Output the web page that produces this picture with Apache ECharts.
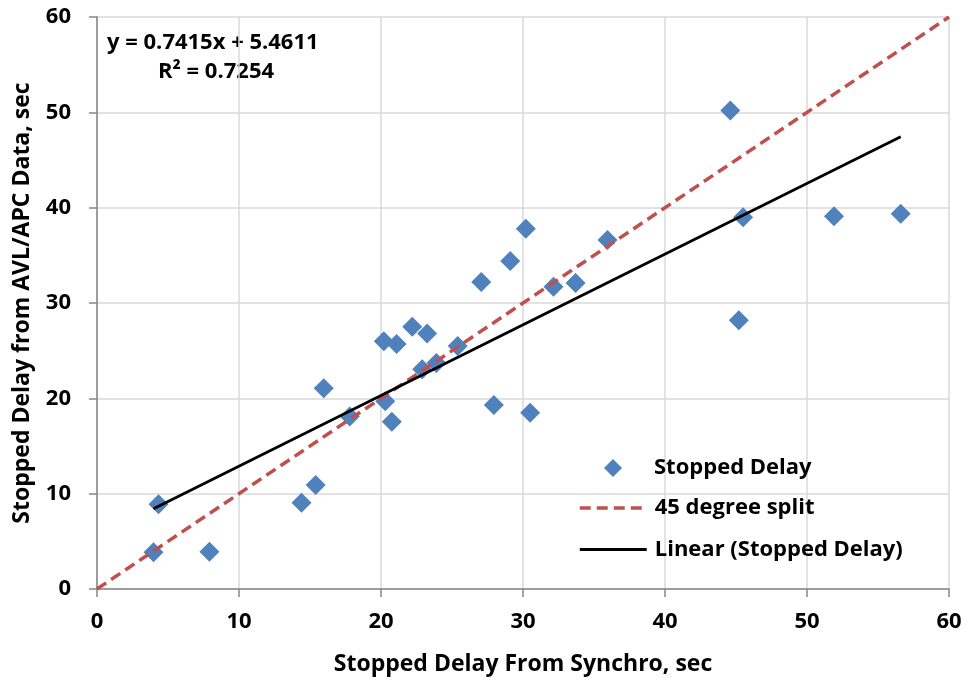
<!DOCTYPE html>
<html>
<head>
<meta charset="utf-8">
<script src="https://cdn.jsdelivr.net/npm/echarts@6/dist/echarts.min.js"></script>
<style>
  html, body { margin: 0; padding: 0; background: #fff; }
  #chart { width: 969px; height: 683px; }
</style>
</head>
<body>
<div id="chart"></div>
<script>
// values
var synchroX = [3.98, 4.33, 7.92, 14.4, 15.4, 15.97, 17.8, 20.3, 20.2, 20.76, 21.1, 22.2, 22.9, 23.25, 23.9,
  25.4, 27.06, 27.95, 29.1, 30.2, 30.5, 32.15, 33.7, 35.95, 44.6, 45.2, 45.5, 51.9, 56.6];
var avlY = [3.85, 8.9, 3.9, 9.06, 10.9, 21.06, 18.1, 19.7, 26.0, 17.55, 25.7, 27.5, 23.05, 26.8, 23.7,
  25.5, 32.2, 19.3, 34.4, 37.8, 18.5, 31.7, 32.1, 36.6, 50.2, 28.2, 39.0, 39.1, 39.35];
var splitLine45 = [[0, 0], [60, 60]];
var trendEnds = [[3.98, 8.41], [56.6, 47.43]];

var font = 'Open Sans';
var pts = synchroX.map(function (x, i) { return [x, avlY[i]]; });

var axisCommon = {
  type: 'value', min: 0, max: 60, interval: 10,
  nameLocation: 'middle',
  nameTextStyle: { fontFamily: font, fontWeight: 'bold', fontSize: 23, color: '#000' },
  axisLine: { show: true, lineStyle: { color: '#868686', width: 1.5 } },
  axisTick: { show: true, length: 8, lineStyle: { color: '#868686', width: 1.5 } },
  splitLine: { show: true, lineStyle: { color: '#d9d9d9', width: 1.5 } }
};
var labelStyle = { fontFamily: font, fontWeight: 'bold', fontSize: 22, color: '#000' };

var chart = echarts.init(document.getElementById('chart'));
chart.setOption({
  animation: false,
  backgroundColor: '#fff',
  textStyle: { fontFamily: font },
  grid: { left: 97, right: 20, top: 17, bottom: 94, containLabel: false },
  xAxis: Object.assign({}, axisCommon, {
    name: 'Stopped Delay From Synchro, sec', nameGap: 64,
    axisLabel: Object.assign({ margin: 22 }, labelStyle)
  }),
  yAxis: Object.assign({}, axisCommon, {
    name: 'Stopped Delay from AVL/APC Data, sec', nameGap: 63, nameRotate: 90,
    axisLabel: Object.assign({ margin: 26 }, labelStyle)
  }),
  legend: [
    {
      orient: 'vertical', left: 604, top: 457, padding: 0,
      itemWidth: 18, itemHeight: 18,
      textStyle: { fontFamily: font, fontWeight: 'bold', fontSize: 22, lineHeight: 22, color: '#000', padding: [0, 0, 0, 27] },
      data: ['Stopped Delay']
    },
    {
      orient: 'vertical', left: 578, top: 497, padding: 0,
      itemWidth: 67, itemHeight: 14, itemGap: 19.5,
      itemStyle: { opacity: 0 },
      textStyle: { fontFamily: font, fontWeight: 'bold', fontSize: 22, lineHeight: 22, color: '#000', padding: [0, 0, 0, 3] },
      data: [
        { name: '45 degree split', lineStyle: { width: 3.5, opacity: 1 } },
        { name: 'Linear (Stopped Delay)', lineStyle: { width: 2.8, opacity: 1 } }
      ]
    }
  ],
  graphic: [
    { type: 'text', left: 107, top: 32, style: { text: 'y = 0.7415x + 5.4611', font: 'bold 22px "Open Sans"', fill: '#000' } },
    { type: 'text', left: 158, top: 61, style: { text: 'R² = 0.7254', font: 'bold 22px "Open Sans"', fill: '#000' } }
  ],
  series: [
    {
      name: '45 degree split', type: 'line', data: splitLine45,
      symbol: 'none', z: 3,
      lineStyle: { color: '#C0504D', width: 3.5, type: [11, 6] },
      itemStyle: { color: '#C0504D' }
    },
    {
      name: 'Stopped Delay', type: 'scatter', data: pts,
      symbol: 'diamond', symbolSize: 20, z: 2,
      itemStyle: { color: '#4F81BD', opacity: 1 }
    },
    {
      name: 'Linear (Stopped Delay)', type: 'line', data: trendEnds,
      symbol: 'none', z: 4,
      lineStyle: { color: '#000', width: 2.8 },
      itemStyle: { color: '#000' }
    }
  ]
});
</script>
</body>
</html>
